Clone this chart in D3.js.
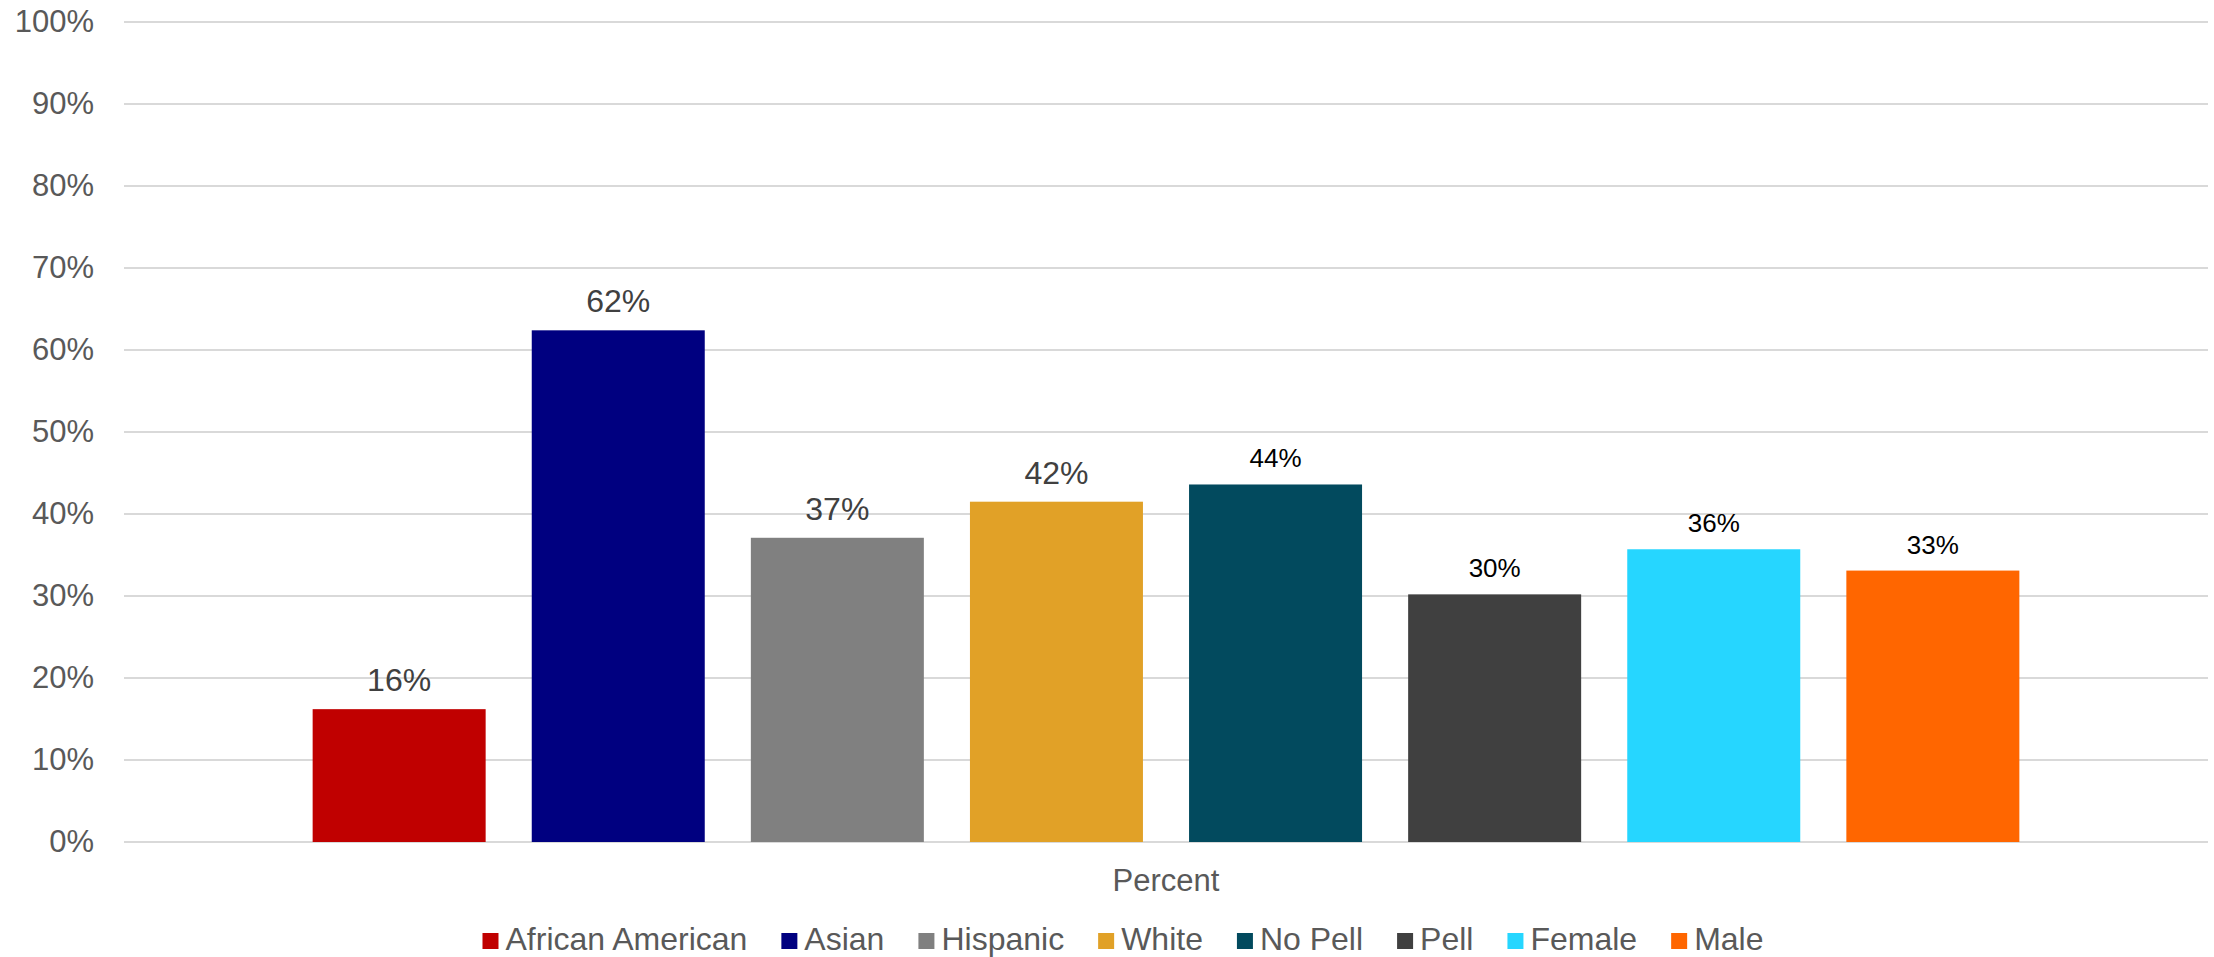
<!DOCTYPE html>
<html>
<head>
<meta charset="utf-8">
<script src="https://cdn.jsdelivr.net/npm/d3@7"></script>
<style>
  html, body { margin: 0; padding: 0; background: #ffffff; }
  svg { display: block; }
  text { font-family: "Liberation Sans", Arial, sans-serif; }
</style>
</head>
<body>
<svg id="chart" width="2214" height="957"></svg>
<script>
// ---- data ----
const seriesNames = ["African American", "Asian", "Hispanic", "White", "No Pell", "Pell", "Female", "Male"];
const seriesValues = [16.2, 62.4, 37.1, 41.5, 43.6, 30.2, 35.7, 33.1];
const seriesColors = ["#C00000", "#000080", "#808080", "#E1A127", "#024A5E", "#404040", "#26D6FF", "#FF6600"];
const labelStyle = ["gray", "gray", "gray", "gray", "black", "black", "black", "black"];
const yTicks = [0, 10, 20, 30, 40, 50, 60, 70, 80, 90, 100];
const categoryLabel = "Percent";

// ---- layout ----
const W = 2214, H = 957;
const plot = { left: 124, right: 2208, top: 22, bottom: 842 };

const svg = d3.select("#chart");

const y = d3.scaleLinear().domain([0, 100]).range([plot.bottom, plot.top]);
const x = d3.scaleBand()
  .domain(seriesNames)
  .range([plot.left, plot.right])
  .paddingInner(0.2104)
  .paddingOuter(0.861);

// gridlines
svg.append("g")
  .selectAll("line")
  .data(yTicks)
  .join("line")
  .attr("x1", plot.left)
  .attr("x2", plot.right)
  .attr("y1", d => y(d))
  .attr("y2", d => y(d))
  .attr("stroke", "#D9D9D9")
  .attr("stroke-width", 2);

// y axis labels
const yAxis = d3.axisLeft(y).tickValues(yTicks).tickFormat(d => d + "%").tickSize(0).tickPadding(30);
const ya = svg.append("g").attr("transform", `translate(${plot.left},0)`).call(yAxis);
ya.select(".domain").remove();
ya.selectAll("text")
  .attr("fill", "#595959")
  .style("font-size", "31px")
  .style("font-family", "'Liberation Sans', Arial, sans-serif");

// bars
const data = seriesNames.map((n, i) => ({ name: n, value: seriesValues[i], color: seriesColors[i], lab: labelStyle[i] }));
svg.append("g")
  .selectAll("rect")
  .data(data)
  .join("rect")
  .attr("x", d => x(d.name))
  .attr("y", d => y(d.value))
  .attr("width", x.bandwidth())
  .attr("height", d => y(0) - y(d.value))
  .attr("fill", d => d.color);

// data labels
svg.append("g")
  .selectAll("text")
  .data(data)
  .join("text")
  .attr("x", d => x(d.name) + x.bandwidth() / 2)
  .attr("y", d => y(d.value) - (d.lab === "gray" ? 18 : 17))
  .attr("text-anchor", "middle")
  .attr("fill", d => d.lab === "gray" ? "#404040" : "#000000")
  .style("font-size", d => d.lab === "gray" ? "32px" : "26px")
  .text(d => Math.round(d.value) + "%");

// category label
svg.append("text")
  .attr("x", (plot.left + plot.right) / 2)
  .attr("y", 891)
  .attr("text-anchor", "middle")
  .attr("fill", "#595959")
  .style("font-size", "31px")
  .text(categoryLabel);

// legend
const legend = svg.append("g");
const sq = 16, gapText = 7, gapItem = 34;
let cx = 0;
data.forEach(d => {
  const g = legend.append("g");
  g.append("rect").attr("x", 0).attr("y", -17).attr("width", sq).attr("height", sq).attr("fill", d.color);
  const t = g.append("text").attr("x", sq + gapText).attr("y", 0)
    .attr("fill", "#595959").style("font-size", "32px").text(d.name);
  const w = sq + gapText + t.node().getComputedTextLength();
  g.attr("transform", `translate(${cx},0)`);
  cx += w + gapItem;
});
const totalW = cx - gapItem;
legend.attr("transform", `translate(${1123 - totalW / 2},950)`);
</script>
</body>
</html>
